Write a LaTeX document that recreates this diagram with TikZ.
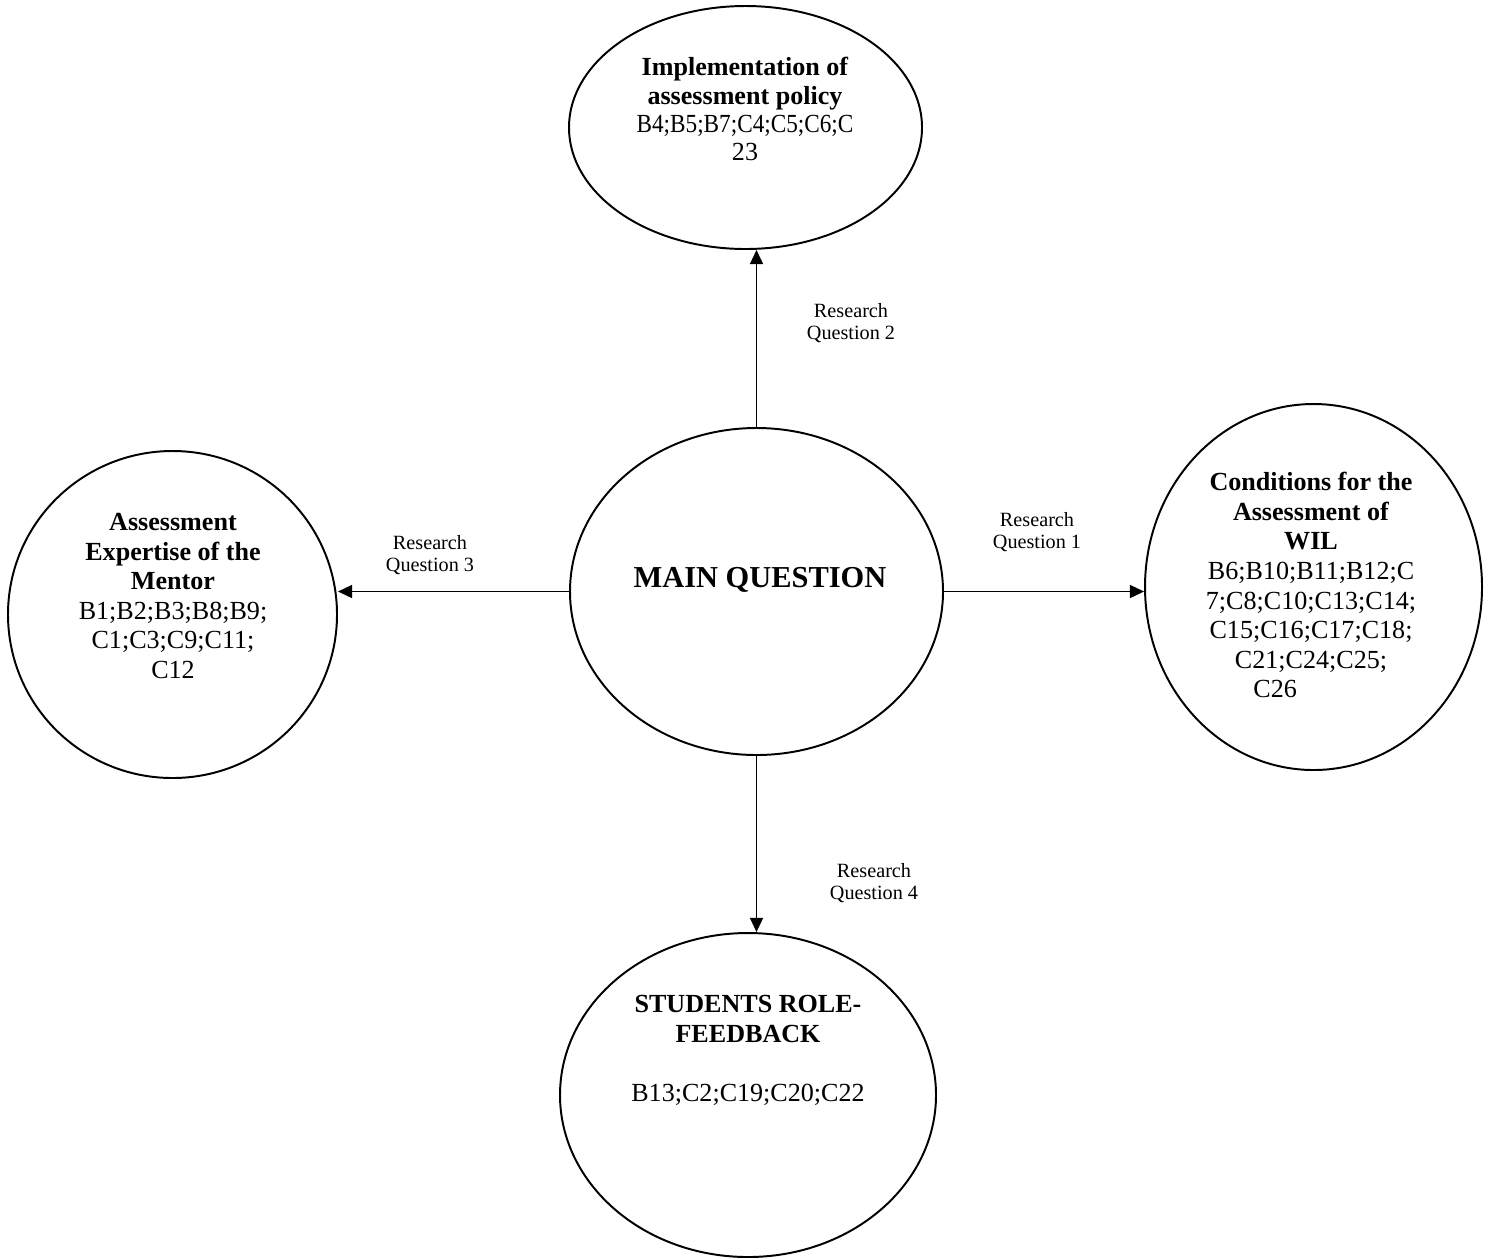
\documentclass[tikz,border=0pt]{standalone}
\usepackage{fontspec}
\setmainfont{Liberation Serif}
\usepackage{tikz}
\usetikzlibrary{
    shapes.geometric,
    arrows.meta,
    positioning
}
\newlength{\pxlen}
\setlength{\pxlen}{0.46pt}

\begin{document}
\begin{tikzpicture}[
    x=0.46pt, y=-0.46pt,
    themeBubble/.style={
        ellipse, draw=black, line width=0.9pt, inner sep=0pt
    },
    themeText/.style={
        anchor=north, inner sep=0pt, align=center,
        font={\fontsize{12}{13.6}\selectfont}
    },
    mainText/.style={
        anchor=base, inner sep=0pt,
        font={\fontsize{14}{16}\selectfont\bfseries}
    },
    rqArrow/.style={
        -{Triangle[length=6.5pt, width=6pt]}, line width=0.7pt, draw=black
    },
    rqLabel/.style={
        anchor=north, inner sep=0pt, align=center,
        font={\fontsize{9.3}{10.1}\selectfont}
    }
]
    \useasboundingbox (0, 0) rectangle (1487, 1257);

    % Bubbles
    \node[themeBubble, minimum width=373\pxlen, minimum height=327\pxlen] (mainQ) at (756.5, 591.5) {};
    \node[themeBubble, minimum width=353\pxlen, minimum height=243\pxlen] (policy) at (745.5, 127.5) {};
    \node[themeBubble, minimum width=329\pxlen, minimum height=327\pxlen] (mentor) at (172.5, 614.5) {};
    \node[themeBubble, minimum width=337\pxlen, minimum height=366\pxlen] (wil) at (1313.5, 587) {};
    \node[themeBubble, minimum width=376\pxlen, minimum height=324\pxlen] (students) at (748, 1095) {};

    % Bubble texts
    \node[mainText] (mainTxt) at (760, 587) {MAIN QUESTION};
    \node[themeText, font={\fontsize{12}{13}\selectfont}] (policyTxt) at (745, 57)
        {\textbf{Implementation of}\\\textbf{assessment policy}\\\scalebox{0.89}[1]{B4;B5;B7;C4;C5;C6;C}\\23};
    \node[themeText] (mentorTxt) at (173, 513)
        {\textbf{Assessment}\\\textbf{Expertise of the}\\\textbf{Mentor}\\B1;B2;B3;B8;B9;\\C1;C3;C9;C11;\\C12};
    \node[themeText] (wilTxt) at (1311, 472)
        {\textbf{Conditions for the}\\\textbf{Assessment of}\\\textbf{WIL}\\B6;B10;B11;B12;C\\7;C8;C10;C13;C14;\\C15;C16;C17;C18;\\C21;C24;C25;\hspace*{22pt}\\C26\hspace*{33pt}};
    \node[themeText] (studentsTxt) at (748, 995)
        {\textbf{STUDENTS ROLE-}\\\textbf{FEEDBACK}\\[13.6pt]B13;C2;C19;C20;C22};

    % Arrows
    \draw[rqArrow] (mainQ.north) -- (mainQ.north |- policy.south);
    \draw[rqArrow] (mainQ.west) -- (mainQ.west -| mentor.east);
    \draw[rqArrow] (mainQ.east) -- (mainQ.east -| wil.west);
    \draw[rqArrow] (mainQ.south) -- (mainQ.south |- students.north);

    % Research question labels
    \node[rqLabel] (rq2) at (851, 303.5) {Research\\Question 2};
    \node[rqLabel] (rq3) at (430, 535.5) {Research\\Question 3};
    \node[rqLabel] (rq1) at (1037, 512.5) {Research\\Question 1};
    \node[rqLabel] (rq4) at (874, 863.5) {Research\\Question 4};

\end{tikzpicture}
\end{document}
